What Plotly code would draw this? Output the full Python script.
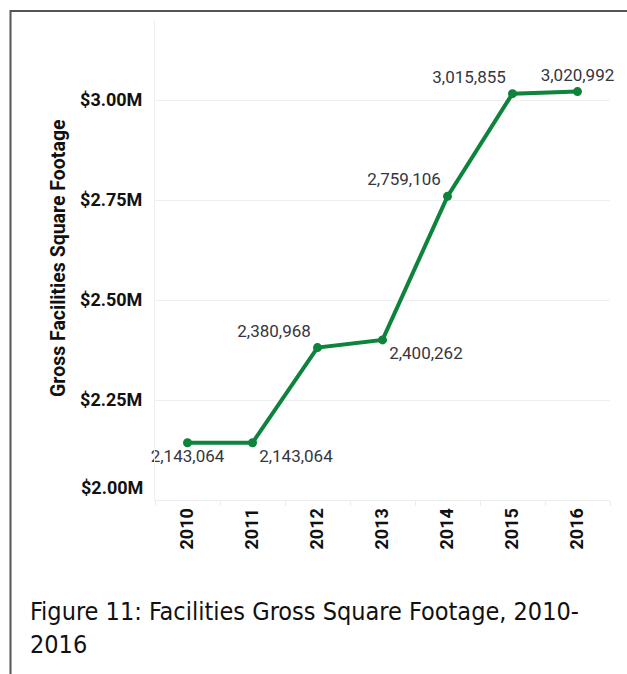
import plotly.graph_objects as go

# Gross facilities square footage by year
years = ["2010", "2011", "2012", "2013", "2014", "2015", "2016"]
square_feet = [2143064, 2143064, 2380968, 2400262, 2759106, 3015855, 3020992]
label_positions = ["bottom center", "bottom right", "top left", "bottom right",
                   "top left", "top left", "top center"]

y_tick_values = [2250000, 2500000, 2750000, 3000000]
y_tick_text = ["$2.25M", "$2.50M", "$2.75M", "$3.00M"]
y_bottom_value = 2000000
y_bottom_text = "$2.00M"
y_range = [2000000, 3200000]

W, H = 627, 674
L, R, T, B = 155, 17, 20, 174
plot_w = W - L - R
plot_h = H - T - B


def px_x(px):
    return (px - L) / plot_w


def px_y(py):
    return (H - B - py) / plot_h


GREEN = "#0d833c"
LABEL_FONT = "Roboto"
CAPTION_FONT = "DejaVu Sans Condensed, Liberation Sans Narrow, Roboto"

fig = go.Figure()
fig.add_trace(go.Scatter(
    x=years,
    y=square_feet,
    mode="lines+markers+text",
    line=dict(color=GREEN, width=4),
    marker=dict(color=GREEN, size=9),
    text=[f"{v:,}" for v in square_feet],
    textposition=label_positions,
    textfont=dict(family=LABEL_FONT, size=17, color="#363640"),
    cliponaxis=False,
    hoverinfo="skip",
))

fig.update_layout(
    width=W, height=H,
    margin=dict(l=L, r=R, t=T, b=B),
    paper_bgcolor="white",
    plot_bgcolor="white",
    showlegend=False,
    xaxis=dict(
        type="category",
        range=[-0.5, 6.5],
        showgrid=False,
        showline=True, linecolor="#ececec", linewidth=1,
        ticks="outside", tickson="boundaries", ticklen=5,
        tickcolor="#ececec", tickwidth=1,
        tickangle=-90,
        tickfont=dict(family="Roboto", size=18, color="#111111", weight="bold"),
        zeroline=False,
        fixedrange=True,
    ),
    yaxis=dict(
        range=y_range,
        tickvals=y_tick_values,
        ticktext=y_tick_text,
        showgrid=True, gridcolor="#eeeeee", gridwidth=1,
        showline=True, linecolor="#eeeeee", linewidth=1,
        zeroline=False,
        ticks="",
        ticklabelstandoff=8,
        tickfont=dict(family="Roboto", size=18, color="#111111", weight="bold"),
        fixedrange=True,
    ),
)

annotations = [
    # bottom tick label sits a little above the axis baseline
    dict(x=0, xref="paper", xanchor="right", xshift=-10,
         y=y_bottom_value, yref="y", yanchor="middle", yshift=13,
         text=y_bottom_text, showarrow=False,
         font=dict(family="Roboto", size=18, color="#111111", weight="bold")),
    # axis title
    dict(x=px_x(58), xref="paper", xanchor="center",
         y=px_y(258), yref="paper", yanchor="middle",
         text="Gross Facilities Square Footage", textangle=-90, showarrow=False,
         font=dict(family="Roboto", size=19.5, color="#111111", weight="bold")),
    # caption
    dict(x=px_x(28), xref="paper", xanchor="left",
         y=px_y(595), yref="paper", yanchor="top", align="left",
         text="Figure 11: Facilities Gross Square Footage, 2010-<br>2016",
         showarrow=False,
         font=dict(family=CAPTION_FONT, size=25, color="#111111")),
]
fig.update_layout(annotations=annotations)

# frame: top and left edges
border = dict(color="#555555", width=2)
fig.add_shape(type="line", xref="paper", yref="paper",
              x0=px_x(10), x1=px_x(W + 5), y0=px_y(11), y1=px_y(11), line=border)
fig.add_shape(type="line", xref="paper", yref="paper",
              x0=px_x(10.5), x1=px_x(10.5), y0=px_y(10), y1=px_y(H + 5), line=border)

fig.write_html("out.html")
